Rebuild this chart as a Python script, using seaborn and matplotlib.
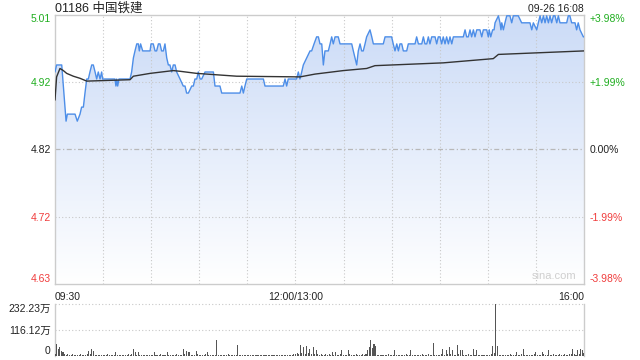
import numpy as np
import pandas as pd
import seaborn as sns
import matplotlib
matplotlib.use("Agg")
import matplotlib.pyplot as plt
from matplotlib.colors import LinearSegmentedColormap
from matplotlib.patches import Polygon

# ---------------- data ----------------
title = "01186 中国铁建"
stamp = "09-26 16:08"
prev_close = 4.82
price_labels = ["5.01", "4.92", "4.82", "4.72", "4.63"]
pct_labels = ["+3.98%", "+1.99%", "0.00%", "-1.99%", "-3.98%"]
pct_levels = [0.0398, 0.0199, 0.0, -0.0199, -0.0398]
time_ticks = [0, 150, 330]
time_labels = ["09:30", "12:00/13:00", "16:00"]
vol_ticks = [0, 116.12, 232.23]
vol_labels = ["0", "116.12万", "232.23万"]

price_t = [0, 1, 3.1, 4.2, 5.2, 6.9, 7.7, 12.5, 13.9, 15.6, 16.6, 17.7, 18.7, 19.8, 20.8, 21.8, 22.9,
           23.9, 25, 26, 27, 28.1, 29.1, 29.7, 37.4, 38, 38.5, 39.1, 39.9, 46.8, 47.8, 48.9, 49.9,
           51, 52, 52.6, 53.4, 54.7, 59.3, 59.9, 61.3, 62.4, 63.4, 64.5, 65.5, 66.5, 67.6, 68.6,
           69.7, 70.7, 71.7, 72.8, 73.8, 74.9, 75.9, 78, 80, 81.1, 82.1, 83.2, 85.3, 86.3, 87.3,
           88.4, 89.4, 90.5, 91.5, 93.6, 98.8, 99.8, 102.9, 104, 115.4, 116.5, 117.5, 118.5, 119.6,
           130, 131, 142.4, 143.5, 144.5, 145.5, 150.7, 151.8, 152.8, 153.9, 154.9, 157, 159.1,
           160.1, 161.6, 163.2, 164.3, 165.3, 166.4, 167.4, 168.4, 170.5, 171.6, 172.6, 173.6,
           174.7, 176.7, 177.8, 185.1, 186.1, 188.2, 189.2, 190.3, 191.3, 192.3, 193.4, 194.4,
           196.5, 197.6, 198.6, 204.8, 205.9, 210, 211, 212.1, 213.2, 214.2, 215.2, 216.3, 217.3,
           219.4, 220.4, 224.6, 225.6, 226.7, 228.8, 229.8, 230.8, 231.9, 232.9, 233.9, 235,
           237.1, 238.1, 239.1, 240.2, 241.2, 242.2, 243.3, 244.3, 245.4, 246.4, 247.5, 248.5,
           254.7, 255.8, 256.8, 257.8, 258.9, 259.9, 261, 262, 263.1, 265.1, 266.2, 267.2, 269.3,
           270.3, 270.9, 271.8, 273, 273.9, 274.5, 276.6, 277.6, 278.2, 278.7, 279.7, 280.7,
           281.8, 283.8, 284.9, 285.9, 289, 291.1, 296.3, 297.4, 298.4, 300.5, 301.5, 302.6,
           303.6, 304.7, 305.7, 306.7, 307.8, 308.8, 309.8, 310.9, 311.9, 313, 314, 315, 319.2,
           320.2, 321.2, 322.3, 324.4, 325.4, 326.4, 327.5, 329.6, 330]
price_v = [4.93, 4.94, 4.94, 4.94, 4.91, 4.86, 4.87, 4.87, 4.86, 4.87, 4.88, 4.88, 4.90, 4.92, 4.92, 4.93, 4.94,
           4.94, 4.93, 4.92, 4.93, 4.92, 4.93, 4.92, 4.92, 4.91, 4.92, 4.91, 4.92, 4.92, 4.93, 4.95, 4.96,
           4.97, 4.97, 4.96, 4.97, 4.96, 4.96, 4.97, 4.97, 4.96, 4.96, 4.97, 4.97, 4.96, 4.96, 4.97,
           4.95, 4.94, 4.94, 4.93, 4.94, 4.94, 4.93, 4.92, 4.91, 4.91, 4.90, 4.90, 4.91, 4.91, 4.92,
           4.92, 4.93, 4.92, 4.92, 4.93, 4.93, 4.91, 4.91, 4.90, 4.90, 4.91, 4.90, 4.91, 4.92,
           4.92, 4.91, 4.91, 4.92, 4.91, 4.92, 4.92, 4.93, 4.92, 4.93, 4.94, 4.95, 4.96,
           4.96, 4.97, 4.98, 4.98, 4.97, 4.97, 4.94, 4.96, 4.96, 4.97, 4.98, 4.97,
           4.98, 4.98, 4.97, 4.97, 4.96, 4.94, 4.96, 4.97, 4.96, 4.96, 4.97, 4.98,
           4.99, 4.98, 4.97, 4.97, 4.98, 4.98, 4.97, 4.96, 4.97, 4.96, 4.97, 4.97, 4.96,
           4.96, 4.97, 4.97, 4.98, 4.97, 4.97, 4.98, 4.97, 4.97, 4.98, 4.97, 4.98,
           4.98, 4.97, 4.98, 4.98, 4.97, 4.98, 4.97, 4.98, 4.97, 4.98, 4.97, 4.98,
           4.98, 4.99, 4.98, 4.98, 4.99, 4.98, 4.99, 4.98, 4.99, 4.99, 4.98, 4.99, 4.99,
           4.98, 4.99, 4.98, 4.99, 4.99, 5.00, 5.01, 5.00, 4.99, 5.00, 4.99, 5.00,
           5.01, 5.01, 5.00, 5.01, 5.01, 5.00, 5.00, 4.99, 5.00, 4.99, 5.00, 5.01,
           5.00, 5.01, 5.00, 5.01, 5.00, 5.01, 5.00, 5.01, 5.01, 5.00, 5.01, 5.00, 5.00,
           5.01, 5.01, 5.00, 5.00, 4.99, 5.00, 4.99, 4.98, 4.98]

avg_t = [0, 1, 3.1, 5.2, 7.3, 11.4, 15.6, 19.8, 46.8, 48.9, 59.3, 73.8, 78, 88.4, 113.3, 152.8,
         162.2, 179.9, 194.4, 199.6, 242.2, 273.4, 276.6, 330]
avg_v = [4.89, 4.923, 4.935, 4.932, 4.928, 4.924, 4.921, 4.917, 4.919, 4.924, 4.928, 4.932, 4.931,
         4.928, 4.924, 4.923, 4.927, 4.932, 4.935, 4.939, 4.943, 4.949, 4.955, 4.960]

# volume per minute (万), minutes 0..330
volume = [10, 55, 31, 40, 22, 18, 8, 6, 9, 5,
          4, 7, 3, 6, 5, 4, 8, 3, 5, 6,
          9, 22, 7, 31, 22, 6, 4, 5, 3, 6,
          4, 5, 3, 7, 4, 3, 5, 6, 18, 4,
          3, 5, 4, 6, 3, 4, 7, 5, 8, 31,
          20, 6, 18, 5, 4, 3, 6, 4, 5, 3,
          4, 6, 18, 5, 3, 4, 7, 3, 5, 6,
          20, 4, 5, 3, 6, 4, 8, 5, 4, 6,
          31, 7, 22, 18, 18, 5, 6, 4, 22, 7,
          5, 4, 6, 3, 9, 18, 5, 4, 6, 3,
          5, 70, 4, 3, 6, 5, 4, 3, 7, 4,
          5, 3, 4, 6, 51, 5, 3, 4, 5, 3,
          4, 3, 5, 4, 3, 6, 4, 3, 5, 4,
          3, 4, 6, 3, 5, 4, 3, 4, 5, 3,
          4, 5, 3, 6, 4, 3, 5, 4, 6, 8,
          10, 12, 9, 48, 14, 40, 10, 43, 12, 31,
          9, 40, 11, 28, 7, 5, 9, 6, 4, 7,
          5, 8, 6, 20, 5, 18, 6, 4, 7, 28,
          5, 6, 4, 25, 7, 5, 4, 6, 9, 5,
          6, 4, 8, 5, 11, 28, 40, 70, 37, 55,
          43, 6, 4, 5, 3, 6, 4, 5, 7, 4,
          5, 6, 25, 4, 5, 3, 6, 4, 5, 7,
          4, 6, 28, 5, 4, 6, 3, 5, 4, 7,
          5, 4, 6, 9, 5, 4, 58, 5, 4, 6,
          5, 8, 31, 6, 28, 9, 40, 7, 28, 6,
          5, 48, 9, 28, 25, 6, 4, 5, 7, 4,
          6, 31, 5, 25, 4, 6, 3, 5, 4, 6,
          5, 4, 8, 43, 12, 232.23, 43, 6, 4, 5,
          3, 6, 4, 5, 7, 4, 5, 6, 18, 4,
          5, 7, 31, 6, 4, 5, 3, 6, 4, 7,
          18, 5, 6, 4, 20, 7, 5, 4, 25, 6,
          4, 7, 5, 3, 6, 8, 4, 5, 9, 6,
          5, 7, 9, 31, 8, 6, 25, 10, 31, 25,
          14]
vol_minutes = list(range(len(volume)))

# ---------------- style ----------------
sns.set_theme(style="white")
plt.rcParams["font.family"] = ["Liberation Sans", "Noto Sans CJK SC", "DejaVu Sans"]

GREEN = "#1fae1f"
RED = "#f03c3c"
DARK = "#222222"
GRID = "#c8c8c8"
BORDER = "#cccccc"
LINE = "#4d8ee8"

fig = plt.figure(figsize=(6.4, 3.6), dpi=100)
ax = fig.add_axes([55 / 640, 1 - 284 / 360, 529 / 640, (284 - 14.5) / 360])
axv = fig.add_axes([55 / 640, 1 - 356 / 360, 529 / 640, 52 / 360])

lo = prev_close * (1 - 0.0398)
hi = prev_close * (1 + 0.0398)
levels = [prev_close * (1 + p) for p in pct_levels]

df = pd.DataFrame({"t": price_t, "p": price_v})
dfa = pd.DataFrame({"t": avg_t, "v": avg_v})

# gradient fill under the price line
grad = np.linspace(0, 1, 256).reshape(-1, 1)
cmap = LinearSegmentedColormap.from_list("g", ["#ffffff", "#cbdbf7"])
im = ax.imshow(grad, extent=[0, 330, lo, hi], origin="lower", aspect="auto",
               cmap=cmap, zorder=1, interpolation="bilinear")
verts = [(price_t[0], lo)] + list(zip(price_t, price_v)) + [(price_t[-1], lo)]
poly = Polygon(verts, closed=True, facecolor="none", edgecolor="none", transform=ax.transData)
ax.add_patch(poly)
im.set_clip_path(poly)

sns.lineplot(data=df, x="t", y="p", ax=ax, color=LINE, lw=1.0, zorder=4)
sns.lineplot(data=dfa, x="t", y="v", ax=ax, color="#333333", lw=1.0, zorder=5)

# grid lines
for k in range(30, 330, 30):
    ax.axvline(k, color=GRID, lw=0.8, ls=(0, (1, 2)), zorder=2)
for lv, p in zip(levels, pct_levels):
    if p == 0:
        ax.axhline(lv, color="#b8b8b8", lw=0.9, ls=(0, (4, 2, 1, 2)), zorder=2)
    elif abs(p) < 0.03:
        ax.axhline(lv, color=GRID, lw=0.8, ls=(0, (1, 2)), zorder=2)

ax.set_xlim(0, 330)
ax.set_ylim(lo, hi)
ax.set_xlabel("")
ax.set_ylabel("")
for s in ax.spines.values():
    s.set_color(BORDER)
    s.set_linewidth(1)

lab_colors = [GREEN, GREEN, DARK, RED, RED]
ax.set_yticks(levels)
ax.set_yticklabels(price_labels, fontsize=7.5)
ax.tick_params(axis="y", length=0, pad=3)
for lbl, c in zip(ax.get_yticklabels(), lab_colors):
    lbl.set_color(c)
ax.get_yticklabels()[0].set_va("top")
ax.get_yticklabels()[-1].set_va("bottom")

ax.set_xticks(time_ticks)
ax.set_xticklabels(time_labels, fontsize=7.5, color=DARK)
ax.tick_params(axis="x", length=0, pad=6)
xl = ax.get_xticklabels()
xl[0].set_ha("left")
xl[-1].set_ha("right")

axr = ax.twinx()
axr.set_ylim(lo, hi)
axr.set_yticks(levels)
axr.set_yticklabels(pct_labels, fontsize=7.5)
axr.tick_params(axis="y", length=0, pad=4)
for lbl, c in zip(axr.get_yticklabels(), lab_colors):
    lbl.set_color(c)
axr.get_yticklabels()[0].set_va("top")
axr.get_yticklabels()[-1].set_va("bottom")
axr.grid(False)
for s in axr.spines.values():
    s.set_visible(False)

ax.text(0, 1.0, title, transform=ax.transAxes, ha="left", va="bottom",
        fontsize=9, color=DARK)
ax.text(1, 1.0, stamp, transform=ax.transAxes, ha="right", va="bottom",
        fontsize=7.5, color=DARK)
ax.text(0.985, 0.012, "sina.com", transform=ax.transAxes, ha="right", va="bottom",
        fontsize=8, color="#cfcfcf", zorder=6)

# volume panel
axv.bar(vol_minutes, volume, width=0.65, color="#555555", linewidth=0,
        edgecolor="none", zorder=3)
axv.set_xlim(0, 330)
axv.set_ylim(0, vol_ticks[-1])
axv.axhline(vol_ticks[1], color=GRID, lw=0.8, ls=(0, (1, 2)), zorder=1)
axv.axhline(vol_ticks[2], color=GRID, lw=0.8, ls=(0, (1, 2)), zorder=1, clip_on=False)
axv.set_xticks([])
axv.set_yticks(vol_ticks)
axv.set_yticklabels(vol_labels, fontsize=7.5, color=DARK)
axv.tick_params(axis="y", length=0, pad=3)
axv.get_yticklabels()[0].set_va("bottom")
axv.get_yticklabels()[-1].set_va("top")
for k, s in axv.spines.items():
    s.set_color(BORDER)
    s.set_linewidth(1)
    if k in ("top", "bottom"):
        s.set_visible(False)

fig.savefig("out.png", dpi=100, facecolor="white")
